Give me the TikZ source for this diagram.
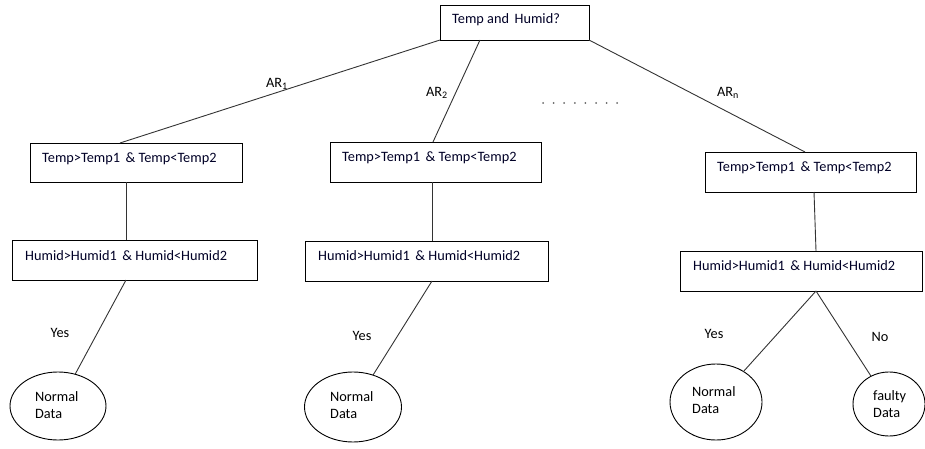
\documentclass[tikz,border=0pt]{standalone}
\usepackage{fontspec}
\setmainfont{Carlito}
\usetikzlibrary{shapes.geometric,calc}
\begin{document}
\begin{tikzpicture}[x=1pt,y=-1pt,
  box/.style={draw,line width=0.9pt,rectangle,inner sep=0pt,outer sep=0pt},
  oval/.style={draw,ellipse,line width=0.9pt,inner sep=0pt,outer sep=0pt},
  txt/.style={font=\fontsize{14.3}{17}\selectfont,text=black!85!blue,inner sep=0pt,anchor=west},
  otxt/.style={font=\fontsize{14.3}{17}\selectfont,align=left,anchor=west,inner sep=0pt},
  lbl/.style={font=\fontsize{14.3}{17}\selectfont,inner sep=0pt},
  conn/.style={draw,line width=0.9pt,black!80}]
\useasboundingbox (0,0) rectangle (925,449);
% boxes
\node[box,minimum width=149pt,minimum height=35pt] (top) at (514.5,22.5) {};
\node[txt] (toptxt) at (452,20) {Temp and\, Humid?};
\node[box,minimum width=212pt,minimum height=39pt] (L1) at (136,162.5) {};
\node[txt] (tl) at (42,159) {Temp>Temp1 \,\& Temp<Temp2};
\node[box,minimum width=211pt,minimum height=40pt] (M1) at (435.5,162) {};
\node[txt] (tm) at (342,158) {Temp>Temp1 \,\& Temp<Temp2};
\node[box,minimum width=211pt,minimum height=40pt] (R1) at (810.5,172) {};
\node[txt] (tr) at (717,168) {Temp>Temp1 \,\& Temp<Temp2};
\node[box,minimum width=245pt,minimum height=40pt] (L2) at (134.5,260) {};
\node[txt] (hl) at (25,256) {Humid>Humid1 \,\& Humid<Humid2};
\node[box,minimum width=243pt,minimum height=40pt] (M2) at (426.5,261) {};
\node[txt] (hm) at (318,256) {Humid>Humid1 \,\& Humid<Humid2};
\node[box,minimum width=242pt,minimum height=40pt] (R2) at (801,271) {};
\node[txt] (hr) at (693,266) {Humid>Humid1 \,\& Humid<Humid2};
% ellipses
\node[oval,minimum width=96pt,minimum height=68pt] (e1) at (58,406) {};
\node[otxt] (e1t) at (35,405) {Normal\\Data};
\node[oval,minimum width=97pt,minimum height=70pt] (e2) at (353,407) {};
\node[otxt] (e2t) at (330,405) {Normal\\Data};
\node[oval,minimum width=92pt,minimum height=76pt] (e3) at (716,402) {};
\node[otxt] (e3t) at (692,400) {Normal\\Data};
\node[oval,minimum width=72pt,minimum height=64pt] (e4) at (889,404) {};
\node[otxt] (e4t) at (873,404) {faulty\\Data};
% connectors
\draw[conn] (top.south west) -- ($(L1.north)+(-16,0)$);
\draw[conn] ($(top.south west)+(40,0)$) -- ($(M1.north)+(-2.5,0)$);
\draw[conn] (top.south east) -- ($(R1.north)+(-5.5,0)$);
\draw[conn] ($(L1.south)+(-10,0)$) -- ($(L2.north)+(-8.5,0)$);
\draw[conn] ($(M1.south)+(-3.5,0)$) -- ($(M2.north)+(5.5,0)$);
\draw[conn] ($(R1.south)+(3.5,0)$) -- ($(R2.north)+(15,0)$);
\draw[conn] ($(L2.south)+(-8.5,0)$) -- (e1);
\draw[conn] ($(M2.south)+(5.5,0)$) -- (e2);
\draw[conn] ($(R2.south)+(15,0)$) -- (e3);
\draw[conn] ($(R2.south)+(15,0)$) -- (e4);
% labels
\node[lbl] (l1) at (277,84) {AR\textsubscript{1}};
\node[lbl] (l2) at (437,93) {AR\textsubscript{2}};
\node[lbl] (l3) at (728,93) {AR\textsubscript{n}};
\foreach \i in {0,...,7} {\fill[black!60] (543+10.6*\i,103) circle (1pt);}
\node[lbl] (y1) at (60,333) {Yes};
\node[lbl] (y2) at (362,336) {Yes};
\node[lbl] (y3) at (714,334) {Yes};
\node[lbl] (n1) at (880,337) {No};
\end{tikzpicture}
\end{document}
